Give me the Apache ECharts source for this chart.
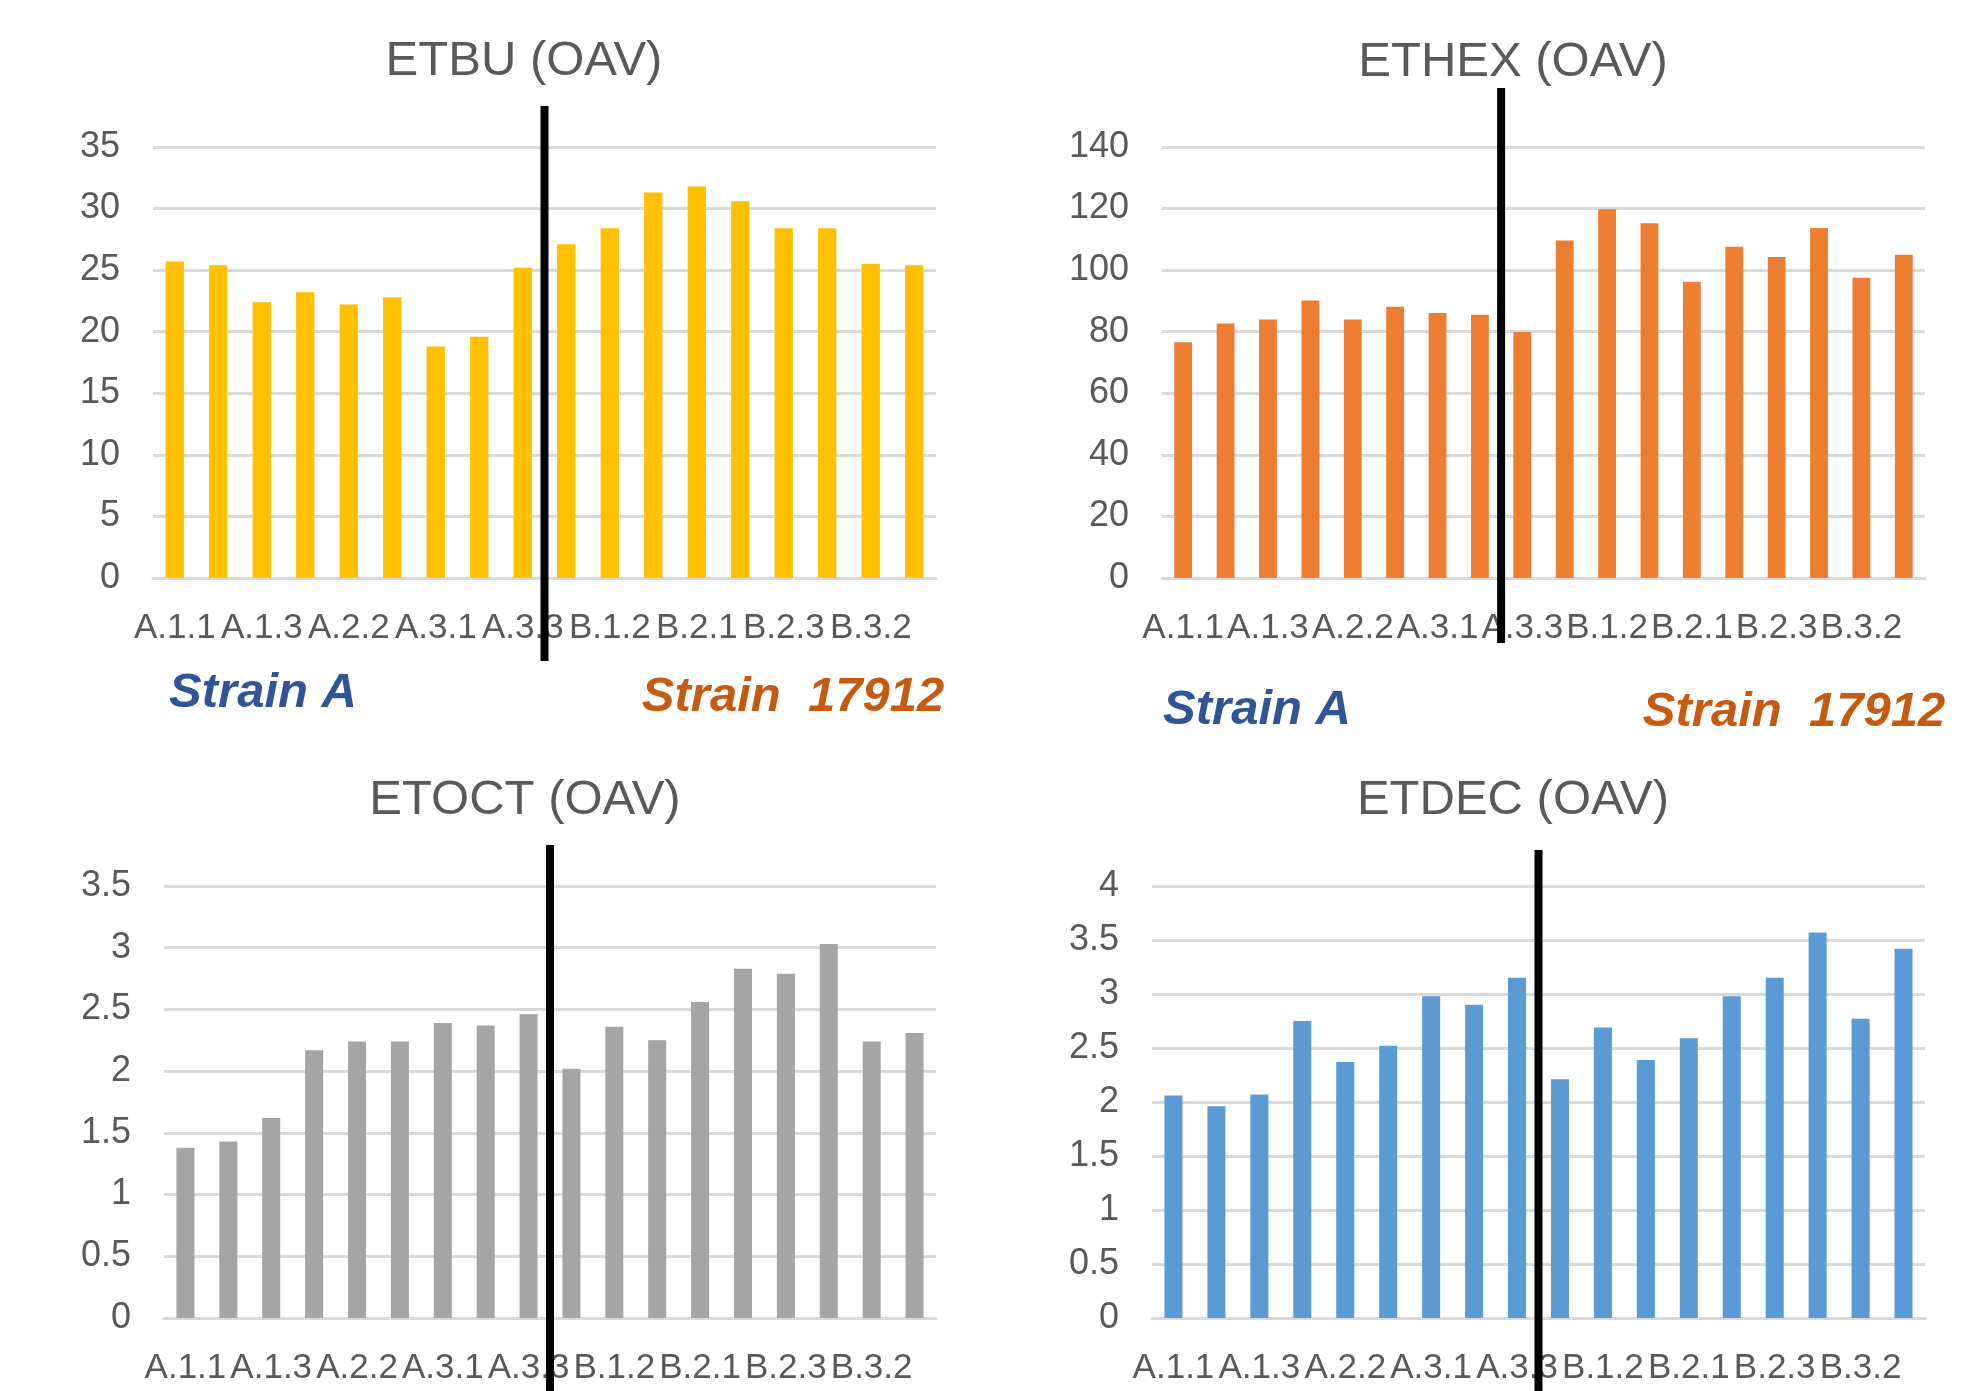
<!DOCTYPE html>
<html><head><meta charset="utf-8">
<script src="https://cdn.jsdelivr.net/npm/echarts@6/dist/echarts.min.js"></script>
<style>html,body{margin:0;padding:0;background:#fff}#c{width:1967px;height:1391px}</style>
</head><body><div id="c"></div>
<script>
const categories = ['A.1.1','A.1.2','A.1.3','A.2.1','A.2.2','A.2.3','A.3.1','A.3.2','A.3.3','B.1.1','B.1.2','B.1.3','B.2.1','B.2.2','B.2.3','B.3.1','B.3.2','B.3.3'];
const etbu  = [25.7,25.4,22.4,23.2,22.2,22.8,18.8,19.6,25.2,27.1,28.4,31.3,31.8,30.6,28.4,28.4,25.5,25.4];
const ethex = [76.6,82.7,84.0,90.1,84.0,88.1,86.1,85.5,79.9,109.6,119.8,115.2,96.2,107.6,104.3,113.7,97.5,105.0];
const etoct = [1.38,1.43,1.62,2.17,2.24,2.24,2.39,2.37,2.46,2.02,2.36,2.25,2.56,2.83,2.79,3.03,2.24,2.31];
const etdec = [2.06,1.96,2.07,2.75,2.37,2.52,2.98,2.90,3.15,2.21,2.69,2.39,2.59,2.98,3.15,3.57,2.77,3.42];
const titles = ['ETBU (OAV)','ETHEX (OAV)','ETOCT (OAV)','ETDEC (OAV)'];
const strainLabels = ['Strain A','Strain  17912'];

const FONT = '"Liberation Sans", Arial, sans-serif';
const panels = [
  {data: etbu,  color:'#FFC000', max:35,  interval:5,   grid:{left:153, top:147, width:783, height:431}, sep:9, sepY:[106,661],  tpos:[524,61],  strain:[[263,693],[793,697]]},
  {data: ethex, color:'#ED7D31', max:140, interval:20,  grid:{left:1162,top:147, width:763, height:431}, sep:8, sepY:[88,643],   tpos:[1513,62], strain:[[1257,710],[1794,712]]},
  {data: etoct, color:'#A5A5A5', max:3.5, interval:0.5, grid:{left:164, top:886, width:772, height:432}, sep:9, sepY:[845,1391], tpos:[525,800], strain:null},
  {data: etdec, color:'#5B9BD5', max:4,   interval:0.5, grid:{left:1152,top:886, width:773, height:432}, sep:9, sepY:[850,1391], tpos:[1513,800], strain:null}
];

const chart = echarts.init(document.getElementById('c'), null, {renderer:'canvas'});
const option = {
  animation:false,
  backgroundColor:'#ffffff',
  grid: panels.map(p => Object.assign({containLabel:false}, p.grid)),
  xAxis: panels.map((p,i) => ({
    type:'category', gridIndex:i, data:categories,
    axisTick:{show:false},
    axisLine:{show:true, lineStyle:{color:'#d9d9d9', width:3}},
    axisLabel:{interval:1, margin:33, fontSize:35, color:'#595959', fontFamily:FONT, hideOverlap:false}
  })),
  yAxis: panels.map((p,i) => ({
    type:'value', gridIndex:i, min:0, max:p.max, interval:p.interval,
    axisLine:{show:false}, axisTick:{show:false},
    splitLine:{lineStyle:{color:'#d9d9d9', width:3}},
    axisLabel:{margin:33, fontSize:36, color:'#595959', fontFamily:FONT}
  })),
  series: panels.map((p,i) => ({
    type:'bar', xAxisIndex:i, yAxisIndex:i, data:p.data, barWidth:'42%',
    itemStyle:{color:p.color}
  }))
};
chart.setOption(option);

const graphics = [];
panels.forEach((p,i) => {
  graphics.push({type:'text', x:p.tpos[0], y:p.tpos[1], z:10,
    style:{text:titles[i], fill:'#595959', fontSize:49, fontFamily:FONT, align:'center', verticalAlign:'middle', textAlign:'center', textVerticalAlign:'middle'}});
  if (p.strain) {
    const cols = ['#2F5597','#C55A11'];
    p.strain.forEach((pos,k) => {
      graphics.push({type:'text', x:pos[0], y:pos[1], z:10,
        style:{text:strainLabels[k], fill:cols[k], fontSize:49, fontWeight:'bold', fontStyle:'italic', fontFamily:FONT, align:'center', verticalAlign:'middle', textAlign:'center', textVerticalAlign:'middle'}});
    });
  }
  const x1 = chart.convertToPixel({xAxisIndex:i}, categories[p.sep-1]);
  const x2 = chart.convertToPixel({xAxisIndex:i}, categories[p.sep]);
  const xs = (x1 + x2) / 2;
  graphics.push({type:'line', z:20, shape:{x1:xs, y1:p.sepY[0], x2:xs, y2:p.sepY[1]}, style:{stroke:'#000000', lineWidth:8}});
});
chart.setOption({graphic: graphics});
</script>
</body></html>
